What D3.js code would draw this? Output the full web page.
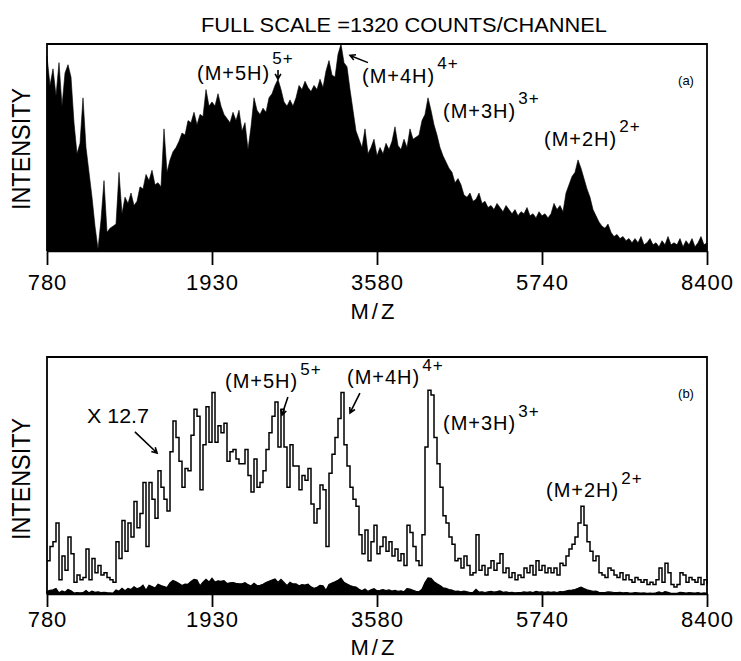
<!DOCTYPE html>
<html><head><meta charset="utf-8">
<script src="https://cdn.jsdelivr.net/npm/d3@7"></script>
<style>
body{margin:0;background:#fff}
svg{display:block}
text{font-family:"Liberation Sans",Arial,sans-serif;fill:#000}
</style>
</head><body>
<svg id="chart" width="741" height="661"></svg>
<script>
// ---------- data ----------
const titleText = "FULL SCALE =1320 COUNTS/CHANNEL";
const xAxisTitle = "M/Z";
const yAxisTitle = "INTENSITY";
const tickLabels = ["780", "1930", "3580", "5740", "8400"];
const scaleFactor = 12.7;              // panel (b) trace is the raw spectrum x 12.7
const panelNames = ["(a)", "(b)"];
const ionNames = ["(M+5H)", "(M+4H)", "(M+3H)", "(M+2H)"];
const ionCharges = ["5+", "4+", "3+", "2+"];

// panel (a): % of full scale (1320 counts/channel), evenly spaced channels 780 -> 8400 m/z
const panelAValues = [
  94,80,88,75,91,70,86,90,84,62,
  47,52,74,50,38,26,12,1,15,34,
  9,11,12,13,38,18,26,23,28,22,
  24,31,30,37,34,39,32,33,31,59,
  38,44,48,50,53,57,56,63,62,67,
  61,66,65,78,70,72,70,76,70,66,
  64,62,67,63,68,58,62,49,60,74,
  68,66,69,67,74,76,80,83,78,72,
  70,73,70,74,80,78,82,79,77,80,
  78,83,79,87,92,85,84,95,100,91,
  89,78,68,58,54,50,59,47,50,54,
  46,50,47,52,49,53,60,51,49,54,
  50,59,54,55,56,63,66,74,68,61,
  56,50,46,43,40,38,33,35,32,27,
  26,28,24,25,28,23,24,21,22,20,
  23,21,19,22,20,18,20,17,19,18,
  21,17,18,16,19,17,18,16,18,23,
  20,22,19,28,32,36,38,44,40,35,
  30,26,20,17,14,12,11,13,9,7,
  8,6,7,5,6,4,6,4,7,3,
  4,6,3,4,2,5,3,7,3,4,
  3,6,2,5,3,6,2,4,7,3,
  4
];

// panel (b): expanded trace (x 12.7), % of frame height, same channels
const panelBValues = [
  14,20,22,30,6,16,10,24,17,5,
  8,6,7,19,6,15,9,12,8,9,
  7,6,5,22,15,31,18,30,24,39,
  28,34,47,20,47,40,32,52,45,40,
  35,60,73,66,56,45,53,52,67,78,
  75,44,63,79,64,85,64,71,68,72,
  56,60,61,57,55,55,61,50,43,57,
  45,47,52,61,68,75,81,62,78,62,
  45,63,54,54,44,50,48,53,38,30,
  36,46,44,20,51,59,66,74,85,63,
  54,45,40,37,25,17,27,14,22,29,
  17,20,24,18,22,16,19,14,17,12,
  29,26,20,14,12,25,62,86,84,66,
  55,45,33,30,24,21,14,15,11,16,
  12,8,9,25,10,12,8,11,14,10,
  13,17,9,11,7,9,6,8,7,11,
  9,12,8,14,10,12,9,11,9,11,
  8,13,12,16,19,21,24,30,37,29,
  22,18,14,16,9,8,7,11,10,8,
  7,9,6,8,6,5,7,6,5,6,
  4,5,4,6,11,5,13,9,4,3,
  4,9,8,5,7,6,5,7,4,6,
  4
];

// ---------- layout ----------
const svg = d3.select("#chart");
const X0 = 47, X1 = 707;
const panels = [
  {values: panelAValues, top: 44, base: 251, tickLen: 14, labelPad: 9, mzY: 319, intY: 149, name: panelNames[0], nameY: 85,
   ions: [
     {i:0, x:197, y:80, sy:64},
     {i:1, x:362, y:83, sy:69},
     {i:2, x:443, y:118, sy:104},
     {i:3, x:544, y:146, sy:132}
   ],
   arrows: [ {from:[77,87.5], to:[77,83]}, {from:[107,91], to:[101,94.5]} ]
  },
  {values: panelBValues, top: 357, base: 594, tickLen: 13, labelPad: 4, mzY: 655, intY: 479, name: panelNames[1], nameY: 398,
   ions: [
     {i:0, x:225, y:388, sy:375},
     {i:1, x:347, y:384, sy:371},
     {i:2, x:443, y:430, sy:417},
     {i:3, x:546, y:497, sy:484}
   ],
   arrows: [ {from:[29.3,68.4], to:[36.7,59.5]}, {from:[80.3,83.1], to:[78.3,75.5]}, {from:[104.3,84.8], to:[101,76.4]} ],
   mult: {text: "X 12.7", x: 87, y: 423}
  }
];

function arrow(g, x1, y1, x2, y2) {
  const a = Math.atan2(y2 - y1, x2 - x1), h = 6, s = 0.5;
  g.append("path")
    .attr("d", `M${x1},${y1}L${x2},${y2}M${x2 - h*Math.cos(a - s)},${y2 - h*Math.sin(a - s)}L${x2},${y2}L${x2 - h*Math.cos(a + s)},${y2 - h*Math.sin(a + s)}`)
    .attr("fill", "none").attr("stroke", "#000").attr("stroke-width", 1.6);
}

// title
svg.append("text").attr("x", 404).attr("y", 32).attr("text-anchor", "middle")
  .attr("font-size", 20).attr("textLength", 406).attr("lengthAdjust", "spacingAndGlyphs")
  .text(titleText);

panels.forEach((p, pi) => {
  const n = p.values.length - 1;
  const x = d3.scaleLinear().domain([0, n]).range([X0, X1]);
  const y = d3.scaleLinear().domain([0, 100]).range([p.base, p.top]);
  const g = svg.append("g");

  if (pi === 0) {
    g.append("path").datum(p.values)
      .attr("d", d3.area().x((d, i) => x(i)).y0(p.base).y1(d => y(d)).curve(d3.curveLinear))
      .attr("fill", "#000").attr("stroke", "#000").attr("stroke-width", 0.6);
  } else {
    // raw spectrum (unexpanded) as filled black
    g.append("path").datum(p.values)
      .attr("d", d3.area().x((d, i) => x(i)).y0(p.base).y1(d => y(d / scaleFactor)).curve(d3.curveLinear))
      .attr("fill", "#000").attr("stroke", "#000").attr("stroke-width", 1.2);
    // expanded trace
    g.append("path").datum(p.values)
      .attr("d", d3.line().x((d, i) => x(i)).y(d => y(d)).curve(d3.curveStepAfter))
      .attr("fill", "none").attr("stroke", "#000").attr("stroke-width", 1.5);
  }

  // frame
  g.append("path")
    .attr("d", `M${X0},${p.base}L${X0},${p.top}L${X1},${p.top}L${X1},${p.base}`)
    .attr("fill", "none").attr("stroke", "#000").attr("stroke-width", 1.8);

  // axis
  const ax = d3.axisBottom(x)
    .tickValues(tickLabels.map((t, i) => n * i / (tickLabels.length - 1)))
    .tickFormat((d, i) => tickLabels[i])
    .tickSize(p.tickLen).tickSizeOuter(0).tickPadding(p.labelPad);
  const axg = g.append("g").attr("transform", `translate(0,${p.base})`).call(ax);
  axg.select(".domain").attr("stroke", "#000").attr("stroke-width", 1.6);
  axg.selectAll(".tick line").attr("stroke", "#000").attr("stroke-width", 1.8);
  axg.selectAll(".tick text").attr("font-size", 22).attr("fill", "#000")
    .attr("font-family", "Liberation Sans, Arial, sans-serif").attr("letter-spacing", 1);

  // axis titles
  g.append("text").attr("x", 374).attr("y", p.mzY).attr("text-anchor", "middle")
    .attr("font-size", 22).attr("letter-spacing", 3).text(xAxisTitle);
  g.append("text").attr("transform", `translate(30,${p.intY}) rotate(-90)`).attr("text-anchor", "middle")
    .attr("font-size", 25).attr("textLength", 122).attr("lengthAdjust", "spacingAndGlyphs").text(yAxisTitle);

  // panel name
  g.append("text").attr("x", 686).attr("y", p.nameY).attr("text-anchor", "middle")
    .attr("font-size", 13).text(p.name);

  // ion labels with superscript charge placed right after the label
  p.ions.forEach(o => {
    const t = g.append("text").attr("x", o.x).attr("y", o.y).attr("font-size", 20)
      .attr("letter-spacing", 1).text(ionNames[o.i]);
    const w = t.node().getComputedTextLength();
    g.append("text").attr("x", o.x + w + 2).attr("y", o.sy).attr("font-size", 17)
      .attr("letter-spacing", 1).text(ionCharges[o.i]);
  });

  if (p.mult) {
    g.append("text").attr("x", p.mult.x).attr("y", p.mult.y).attr("font-size", 20)
      .attr("textLength", 62).attr("lengthAdjust", "spacingAndGlyphs").text(p.mult.text);
  }

  p.arrows.forEach(a => arrow(g, x(a.from[0]), y(a.from[1]), x(a.to[0]), y(a.to[1])));
});
</script>
</body></html>
